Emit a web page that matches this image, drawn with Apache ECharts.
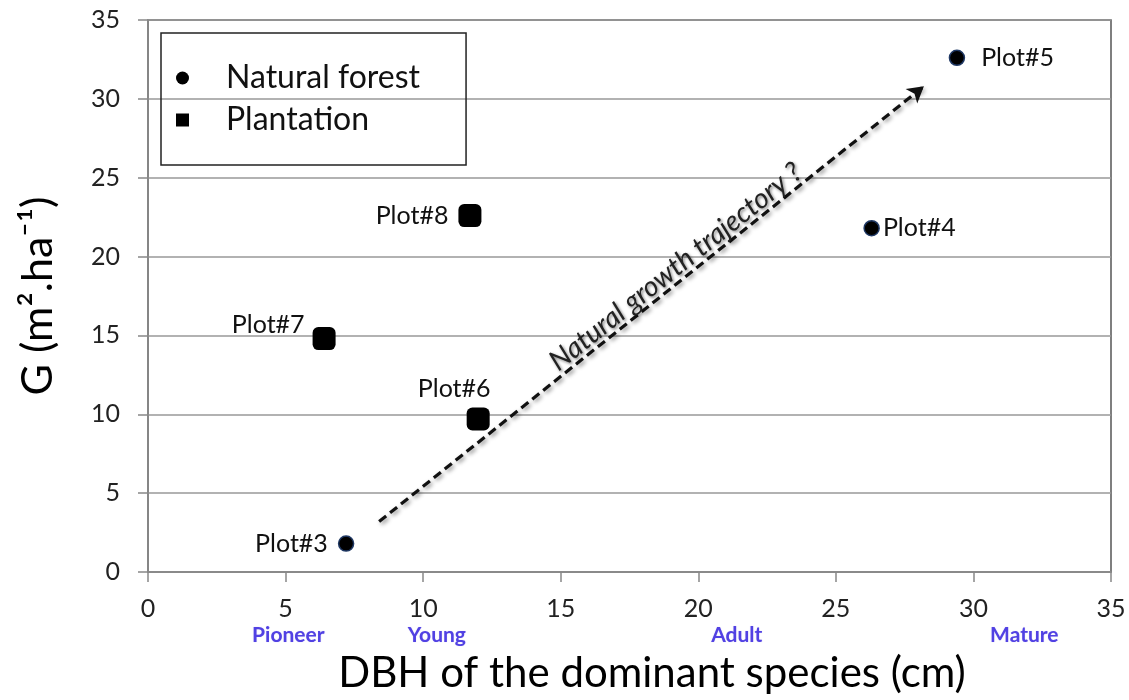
<!DOCTYPE html>
<html>
<head>
<meta charset="utf-8">
<script src="https://cdn.jsdelivr.net/npm/echarts@6/dist/echarts.min.js"></script>
<style>
html,body{margin:0;padding:0;background:#fff;}
#chart{width:1129px;height:700px;}
</style>
</head>
<body>
<div id="chart"></div>
<script>
// ---- data ----
var naturalNames = ['Plot#3', 'Plot#4', 'Plot#5'];
var naturalDBH   = [7.2, 26.3, 29.4];
var naturalG     = [1.8, 21.8, 32.6];

var plantNames = ['Plot#6', 'Plot#7', 'Plot#8'];
var plantDBH   = [12.0, 6.4, 11.7];
var plantG     = [9.7, 14.8, 22.6];

var arrowStart = [8.4, 3.2];
var arrowEnd   = [28.2, 30.8];
var arrowText  = 'Natural growth trajectory ?';

var stageNames = ['Pioneer', 'Young', 'Adult', 'Mature'];
var stageDBH   = [5.1, 10.5, 21.4, 31.85];
var stageRowG  = -4.0;

var xTicks = [0, 5, 10, 15, 20, 25, 30, 35];
var yTicks = [0, 5, 10, 15, 20, 25, 30, 35];

// ---- label placement per plot ----
var labelCfg = {
  'Plot#3': {position: 'left', distance: 10},
  'Plot#4': {position: 'right', distance: 3},
  'Plot#5': {position: 'right', distance: 16},
  'Plot#6': {position: 'top', distance: 6, offset: [-24, 0]},
  'Plot#7': {position: 'left', distance: 8, offset: [0, -14]},
  'Plot#8': {position: 'left', distance: 10}
};

var FONT = 'Lato, "Open Sans", sans-serif';

function buildData(names, xs, ys) {
  return names.map(function (n, i) {
    return {name: n, value: [xs[i], ys[i]], label: labelCfg[n]};
  });
}

var chart = echarts.init(document.getElementById('chart'));
var option = {
  animation: false,
  grid: {left: 148, right: 18, top: 20, bottom: 128, outerBoundsMode: 'none', containLabel: false,
    show: true, borderColor: '#555', borderWidth: 1.5},
  legend: {
    left: 161, top: 33,
    orient: 'vertical',
    padding: [29, 46, 29, 15],
    itemGap: 10,
    itemWidth: 13, itemHeight: 13,
    borderColor: '#222', borderWidth: 1.5,
    textStyle: {fontFamily: FONT, fontSize: 32, color: '#111', padding: [0, 0, 0, 32]},
    data: [
      {name: 'Natural forest', icon: 'circle', itemStyle: {color: '#000', borderWidth: 0}},
      {name: 'Plantation', icon: 'rect', itemStyle: {color: '#000', borderWidth: 0}}
    ]
  },
  xAxis: {
    type: 'value', min: xTicks[0], max: xTicks[xTicks.length - 1], interval: 5,
    axisLine: {show: true, lineStyle: {color: '#888', width: 1.5}},
    axisTick: {show: true, inside: false, length: 10, lineStyle: {color: '#888', width: 1.5}},
    splitLine: {show: false},
    axisLabel: {margin: 24, fontFamily: FONT, fontSize: 25, color: '#222'},
    name: 'DBH of the dominant species (cm)',
    nameLocation: 'middle', nameGap: 80,
    nameTextStyle: {fontFamily: FONT, fontSize: 42, color: '#000', padding: [0, 0, 0, 45]}
  },
  yAxis: {
    type: 'value', min: yTicks[0], max: yTicks[yTicks.length - 1], interval: 5,
    axisLine: {show: true, lineStyle: {color: '#888', width: 1.5}},
    axisTick: {show: true, inside: false, length: 10, lineStyle: {color: '#888', width: 1.5}},
    splitLine: {show: true, lineStyle: {color: '#999', width: 1.5}},
    axisLabel: {margin: 28, fontFamily: FONT, fontSize: 25, color: '#222'},
    name: 'G (m\u00B2.ha\u207B\u00B9)',
    nameLocation: 'middle', nameGap: 88, nameRotate: 90,
    nameTextStyle: {fontFamily: FONT, fontSize: 43, color: '#000'}
  },
  series: [
    {
      name: 'Natural forest', type: 'scatter', symbol: 'circle', symbolSize: 15,
      itemStyle: {color: '#000', opacity: 1, borderColor: '#1f3864', borderWidth: 1.5},
      label: {show: true, formatter: '{b}', fontFamily: FONT, fontSize: 25, color: '#111'},
      data: buildData(naturalNames, naturalDBH, naturalG),
      z: 5
    },
    {
      name: 'Plantation', type: 'scatter', symbol: 'roundRect', symbolSize: 23,
      itemStyle: {color: '#000', opacity: 1},
      label: {show: true, formatter: '{b}', fontFamily: FONT, fontSize: 25, color: '#111'},
      data: buildData(plantNames, plantDBH, plantG),
      markLine: {
        silent: true, symbol: ['none', 'arrow'], symbolSize: [14, 16],
        lineStyle: {type: [9, 5], color: '#111', width: 3.2, shadowBlur: 4, shadowColor: 'rgba(0,0,0,0.45)', shadowOffsetX: 2, shadowOffsetY: 2},
        label: {
          show: true, position: 'insideMiddleTop', distance: 0,
          formatter: arrowText, fontFamily: FONT, fontSize: 28, fontStyle: 'italic',
          color: '#222', padding: [0, 0, 0, 84],
          textShadowBlur: 3, textShadowColor: 'rgba(0,0,0,0.5)', textShadowOffsetX: 1.5, textShadowOffsetY: 1.5
        },
        data: [[{coord: arrowStart}, {coord: arrowEnd}]]
      },
      z: 5
    },
    {
      name: 'stages', type: 'scatter', symbol: 'circle', symbolSize: 1, clip: false, silent: true,
      itemStyle: {color: 'rgba(0,0,0,0)'},
      label: {show: true, position: 'inside', formatter: '{b}', fontFamily: FONT, fontWeight: 'bold', fontSize: 21, color: '#3320e0',
        textShadowBlur: 1, textShadowColor: 'rgba(50,30,200,0.35)'},
      data: stageNames.map(function (n, i) { return {name: n, value: [stageDBH[i], stageRowG]}; })
    }
  ]
};
chart.setOption(option);
</script>
</body>
</html>
